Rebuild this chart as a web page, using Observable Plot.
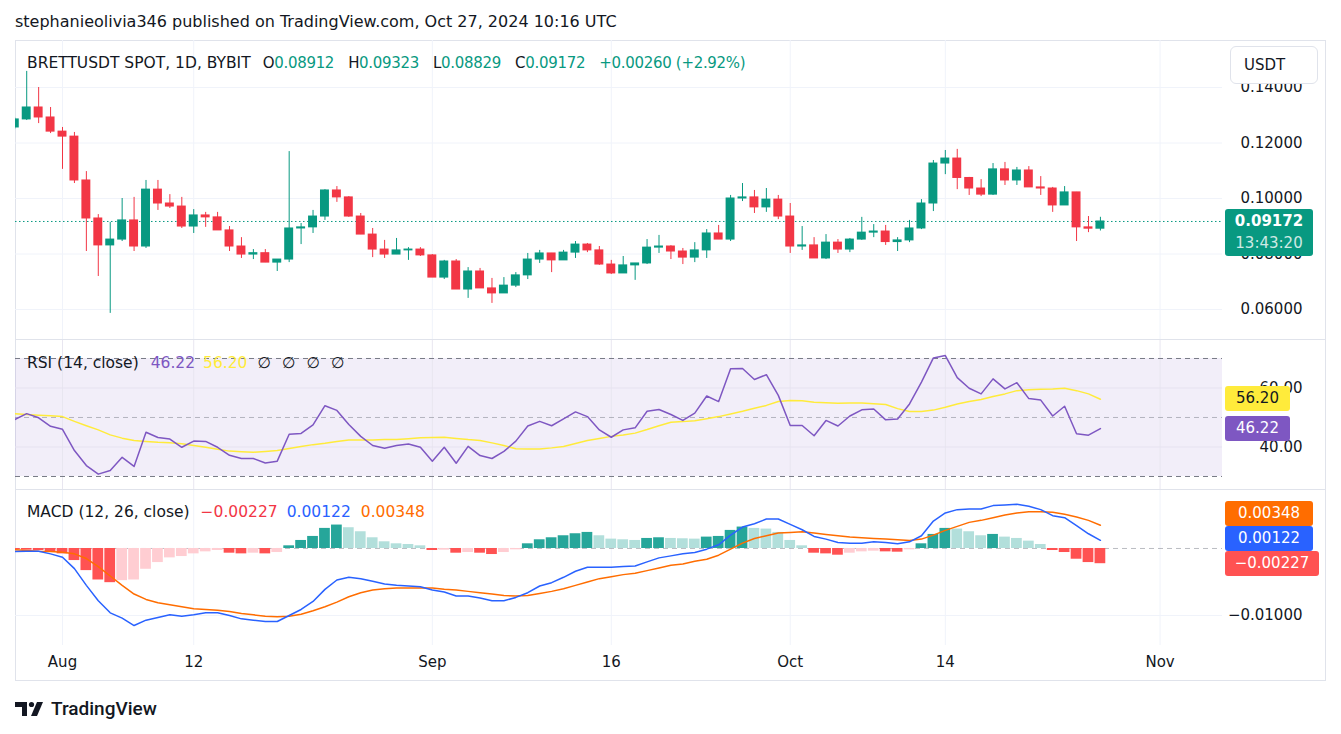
<!DOCTYPE html>
<html><head><meta charset="utf-8">
<script src="https://cdn.jsdelivr.net/npm/d3@7"></script>
<script src="https://cdn.jsdelivr.net/npm/@observablehq/plot@0.6"></script>
<style>
body{margin:0;background:#fff;font-family:"DejaVu Sans",sans-serif;color:#131722;}
#root{position:relative;width:1341px;height:734px;overflow:hidden;background:#fff;}
.abs{position:absolute;}
.legend{position:absolute;left:27px;font-size:15.5px;line-height:20px;white-space:nowrap;}
.legend span{margin-right:8px;}
.legend .v{font-size:15px;letter-spacing:-0.3px;margin-right:14px;}
.box{position:absolute;left:1225px;height:25px;line-height:25px;font-size:15px;text-align:center;border-radius:3px;}
.sep{position:absolute;left:15px;width:1311px;height:1px;background:#e0e3eb;}
</style></head><body><div id="root"></div>
<script>
// ---------------- data ----------------
const days = d3.utcDays(new Date(Date.UTC(2024,6,28)), new Date(Date.UTC(2024,9,28))); // Jul 28 .. Oct 27
const open = [
 0.1256,0.1285,0.1328,0.1292,
 0.1241,0.1223,0.1065,0.0928,0.0831,0.0852,0.0921,0.0827,0.1032,0.0982,0.0971,0.0899,0.0939,0.0932,0.0885,0.0827,0.0798,0.0803,0.0769,0.0780,0.0892,0.0896,0.0935,0.1029,0.1004,0.0935,0.0870,0.0816,0.0798,0.0813,0.0816,
 0.0795,0.0715,0.0773,0.0672,0.0737,0.0676,0.0658,0.0686,0.0723,0.0780,0.0802,0.0777,0.0805,0.0834,0.0813,0.0762,0.0730,0.0759,0.0766,0.0823,0.0827,0.0809,0.0787,0.0813,0.0874,0.0852,0.1000,0.1004,0.0968,0.0996,
 0.0935,0.0827,0.0831,0.0784,0.0841,0.0816,0.0852,0.0877,0.0881,0.0843,0.0849,0.0892,0.0982,0.1126,0.1144,0.1074,0.1036,0.1014,0.1105,0.1065,0.1101,0.1040,0.1036,0.0975,0.1022,0.0896,0.08912];
const high = [
 0.1290,0.1458,0.1400,0.1328,
 0.1256,0.1238,0.1097,0.0942,0.0914,0.1000,0.1004,0.1065,0.1065,0.1014,0.1004,0.0960,0.0950,0.0950,0.0899,0.0859,0.0816,0.0816,0.0780,0.1169,0.0910,0.0957,0.1032,0.1043,0.1007,0.0946,0.0892,0.0849,0.0856,0.0823,0.0823,
 0.0798,0.0777,0.0780,0.0751,0.0748,0.0712,0.0715,0.0733,0.0802,0.0813,0.0802,0.0813,0.0845,0.0838,0.0827,0.0777,0.0791,0.0766,0.0852,0.0867,0.0830,0.0820,0.0841,0.0888,0.0903,0.1011,0.1054,0.1029,0.1036,0.1011,
 0.0982,0.0899,0.0859,0.0870,0.0852,0.0856,0.0932,0.0906,0.0903,0.0859,0.0921,0.0996,0.1137,0.1173,0.1177,0.1076,0.1068,0.1126,0.1130,0.1112,0.1115,0.1079,0.1040,0.1043,0.1022,0.0935,0.09323];
const low = [
 0.1250,0.1281,0.1270,0.1234,
 0.1105,0.1054,0.0809,0.0719,0.0586,0.0845,0.0809,0.0820,0.0957,0.0964,0.0892,0.0874,0.0896,0.0885,0.0809,0.0784,0.0780,0.0769,0.0737,0.0769,0.0834,0.0874,0.0921,0.0986,0.0932,0.0870,0.0787,0.0784,0.0798,0.0777,0.0791,
 0.0715,0.0708,0.0672,0.0640,0.0676,0.0622,0.0658,0.0679,0.0708,0.0766,0.0733,0.0777,0.0784,0.0805,0.0759,0.0726,0.0730,0.0705,0.0762,0.0802,0.0780,0.0762,0.0769,0.0784,0.0852,0.0845,0.0989,0.0946,0.0950,0.0924,
 0.0802,0.0813,0.0784,0.0780,0.0802,0.0805,0.0849,0.0859,0.0831,0.0809,0.0841,0.0888,0.0953,0.1086,0.1032,0.1011,0.1007,0.1011,0.1047,0.1047,0.1040,0.1011,0.0950,0.0975,0.0845,0.0877,0.08829];
const close = [
 0.1285,0.1328,0.1292,0.1241,
 0.1223,0.1065,0.0928,0.0831,0.0852,0.0921,0.0827,0.1032,0.0982,0.0971,0.0899,0.0939,0.0932,0.0885,0.0827,0.0798,0.0803,0.0769,0.0780,0.0892,0.0896,0.0935,0.1029,0.1004,0.0935,0.0870,0.0816,0.0798,0.0813,0.0816,0.0795,
 0.0715,0.0773,0.0672,0.0737,0.0676,0.0658,0.0686,0.0723,0.0780,0.0802,0.0777,0.0805,0.0834,0.0813,0.0762,0.0730,0.0759,0.0766,0.0823,0.0827,0.0809,0.0787,0.0813,0.0874,0.0852,0.1000,0.1004,0.0968,0.0996,0.0935,
 0.0827,0.0831,0.0784,0.0841,0.0816,0.0852,0.0877,0.0881,0.0843,0.0849,0.0892,0.0982,0.1126,0.1144,0.1074,0.1036,0.1014,0.1105,0.1065,0.1101,0.1040,0.1036,0.0975,0.1022,0.0896,0.08912,0.09172];
const rsi = [
 49.3,51.3,49.9,47.0,
 46.0,38.8,33.7,30.8,32.0,36.5,33.4,45.0,43.2,42.7,39.9,42.0,41.9,39.9,37.2,36.1,36.1,34.6,35.2,44.3,44.6,47.5,54.0,52.4,47.6,43.6,40.5,39.6,40.5,41.0,39.9,
 35.2,39.9,34.5,40.2,37.1,36.1,38.5,42.0,47.1,48.7,47.2,49.5,51.9,50.3,45.8,43.3,45.8,46.5,52.1,52.7,51.0,49.0,51.5,57.3,55.4,66.5,66.6,62.9,64.5,57.5,
 47.3,47.3,43.8,49.0,47.1,50.5,52.6,52.9,49.2,49.5,54.6,62.0,70.2,71.0,63.5,59.9,58.0,63.1,59.7,61.8,56.4,55.9,50.5,53.8,44.5,44.0,46.22];
const rsiMA = [
 51.3,51.0,50.8,50.6,
 50.3,48.7,47.2,45.8,44.1,43.0,42.2,41.9,41.6,41.4,41.1,40.5,39.9,39.2,38.6,38.4,38.2,38.5,38.8,39.5,40.2,40.8,41.3,41.9,42.4,42.4,42.4,42.5,42.5,42.8,43.1,
 43.2,43.3,42.9,42.5,42.2,41.4,40.5,39.4,39.3,39.3,39.7,40.2,41.2,42.2,42.9,43.6,44.1,44.7,45.9,47.2,48.4,48.6,48.9,49.6,50.3,51.2,52.1,53.1,54.1,55.4,
 55.8,55.7,55.2,55.0,54.8,54.9,54.9,54.7,54.4,53.0,52.0,52.0,52.5,53.5,54.6,55.4,56.1,57.1,58.0,59.1,59.4,59.6,59.7,59.9,59.1,58.0,56.20];
const macd = [
 -0.00045,-0.0004,-0.0004,-0.0008,
 -0.0013,-0.0030,-0.0055,-0.0078,-0.0096,-0.0104,-0.0115,-0.0107,-0.0103,-0.0099,-0.0101,-0.0099,-0.0096,-0.0096,-0.0100,-0.0105,-0.0107,-0.0109,-0.0109,-0.0100,-0.0091,-0.0079,-0.0061,-0.0047,-0.0043,-0.0045,-0.0049,-0.0053,-0.0055,-0.0056,-0.0057,
 -0.0062,-0.0065,-0.0071,-0.0071,-0.0074,-0.0078,-0.0078,-0.0073,-0.0066,-0.0056,-0.0051,-0.0043,-0.0034,-0.0028,-0.0028,-0.0028,-0.0027,-0.0026,-0.0020,-0.0014,-0.0011,-0.0008,-0.0006,-0.0001,0.00055,0.0020,0.0032,0.0037,0.0044,0.0044,
 0.0036,0.0028,0.0018,0.0014,0.0009,0.0008,0.0008,0.0010,0.0009,0.0007,0.0010,0.0019,0.0041,0.0053,0.0058,0.0059,0.0059,0.0064,0.0065,0.0066,0.0063,0.0058,0.0049,0.0046,0.0034,0.0022,0.00122];
const signal = [
 -0.0002,-0.0003,-0.0004,-0.00045,
 -0.00055,-0.0008,-0.0015,-0.0027,-0.0041,-0.0055,-0.0068,-0.0076,-0.0081,-0.0084,-0.0087,-0.0090,-0.0091,-0.0092,-0.0094,-0.0097,-0.0099,-0.0101,-0.0102,-0.0101,-0.0098,-0.0093,-0.0087,-0.0080,-0.0072,-0.0066,-0.0062,-0.0060,-0.0059,-0.0059,-0.0059,
 -0.0059,-0.0061,-0.0062,-0.0064,-0.0066,-0.0068,-0.0070,-0.0071,-0.0070,-0.0067,-0.0064,-0.0060,-0.0055,-0.0050,-0.0045,-0.0042,-0.0039,-0.0037,-0.0033,-0.0029,-0.0025,-0.0023,-0.0019,-0.0016,-0.0010,-0.0001,0.0008,0.0015,0.0019,0.0023,
 0.0024,0.0025,0.0023,0.0021,0.0019,0.0017,0.0016,0.0015,0.0014,0.0013,0.0012,0.0014,0.0020,0.0027,0.0033,0.0039,0.0042,0.0046,0.0050,0.0053,0.0055,0.0055,0.0054,0.0051,0.0047,0.0042,0.00348];
const hist = [
 -0.0002,-0.00025,-0.0003,-0.0005,
 -0.0008,-0.0018,-0.0033,-0.0047,-0.0051,-0.0048,-0.0047,-0.0031,-0.0021,-0.0014,-0.0012,-0.0008,-0.0005,-0.0003,-0.0007,-0.0008,-0.0007,-0.0008,-0.0006,0.0004,0.0012,0.0018,0.0030,0.0035,0.0031,0.0025,0.0016,0.0010,0.0007,0.0006,0.0004,
 -0.0003,-0.00025,-0.0007,-0.0006,-0.0007,-0.0009,-0.0006,-0.0002,0.0007,0.0013,0.0016,0.0019,0.0022,0.0024,0.0019,0.0014,0.0013,0.0012,0.0015,0.0016,0.0015,0.00145,0.0014,0.0017,0.0018,0.0027,0.0032,0.0030,0.0029,0.0024,
 0.0012,0.0004,-0.0007,-0.0008,-0.0010,-0.0007,-0.0005,-0.0004,-0.0005,-0.00055,-0.0002,0.0007,0.0021,0.0030,0.0029,0.0025,0.0019,0.0021,0.0017,0.0015,0.0011,0.0006,-0.0003,-0.0006,-0.0016,-0.0021,-0.00227];
const tickDates = [new Date(Date.UTC(2024,7,1)),new Date(Date.UTC(2024,7,12)),new Date(Date.UTC(2024,8,1)),new Date(Date.UTC(2024,8,16)),new Date(Date.UTC(2024,9,1)),new Date(Date.UTC(2024,9,14)),new Date(Date.UTC(2024,10,1))];
const tickLabels = ["Aug","12","Sep","16","Oct","14","Nov"];
const priceTicks = [0.06,0.08,0.10,0.12,0.14];
const rsiTicks = [40,60];
const macdTicks = [-0.01];

// ---------------- styles ----------------
const UP="#089981", DOWN="#F23645", GRID="#f0f3fa", TXT="#131722";
const DAY = 864e5;
const aug1 = Date.UTC(2024,7,1);
const xDomain = [new Date(aug1 - 3.94*DAY), new Date(aug1 + 97.234*DAY)];
const W = 1311, MR = 104;
const FONT = "'DejaVu Sans', sans-serif";
const FS = 15;

const rows = days.map((d,i)=>({date:d,o:open[i],h:high[i],l:low[i],c:close[i],
  lo:Math.min(open[i],close[i]),hi:Math.max(open[i],close[i]),
  col: close[i]>=open[i]?UP:DOWN,
  bx1:new Date(+d-0.375*DAY), bx2:new Date(+d+0.375*DAY),
  hx1:new Date(+d-0.45*DAY), hx2:new Date(+d+0.45*DAY),
  rsi:rsi[i], rsiMA:rsiMA[i], macd:macd[i], signal:signal[i], hist:hist[i],
  hcol: (()=>{const h=hist[i], p=i>0?hist[i-1]:h; return h>=0 ? (i>0&&h>=p?"#26A69A":"#B2DFDB") : (i===0||h<p?"#FF5252":"#FFCDD2");})()
}));
const last = rows[rows.length-1];

const root = document.getElementById("root");
function add(html){ root.insertAdjacentHTML("beforeend", html); }
function place(el, left, top){ el.style.position="absolute"; el.style.left=left+"px"; el.style.top=top+"px"; root.appendChild(el); }

// header
add(`<div class="abs" style="left:15px;top:12px;font-size:16px;line-height:20px;color:${TXT}">stephanieolivia346 published on TradingView.com, Oct 27, 2024 10:16 UTC</div>`);
// frame
add(`<div class="abs" style="left:15px;top:40px;width:1311px;height:641px;border:1px solid #e0e3eb;box-sizing:border-box"></div>`);

const base = {width:W, marginLeft:0, marginRight:MR, marginTop:0, style:{fontFamily:FONT, background:"transparent", overflow:"visible"},
  color:{type:"identity"}};

// main pane
const mainPlot = Plot.plot({...base, height:299, marginBottom:0,
  x:{type:"utc", domain:xDomain, axis:null},
  y:{domain:[0.04919,0.15694], axis:null},
  marks:[
    Plot.ruleY(priceTicks,{stroke:GRID}),
    Plot.ruleX(tickDates,{stroke:GRID}),
    Plot.ruleY([last.c],{stroke:UP, strokeDasharray:"1.5,2.5"}),
    Plot.ruleX(rows,{x:"date", y1:"l", y2:"h", stroke:"col", clip:true}),
    Plot.rect(rows,{x1:"bx1", x2:"bx2", y1:"lo", y2:"hi", fill:"col", insetTop:-0.5, insetBottom:-0.5, clip:true}),
    Plot.text(priceTicks,{y:d=>d, text:d=>d.toFixed(5), frameAnchor:"right", dx:80, textAnchor:"end", fontSize:FS, fill:TXT})
  ]});
place(mainPlot, 15, 40);

// RSI pane
const rsiPlot = Plot.plot({...base, height:150, marginBottom:0,
  x:{type:"utc", domain:xDomain, axis:null},
  y:{domain:[25.59,76.44], axis:null},
  marks:[
    Plot.rect([0],{x1:()=>xDomain[0], x2:()=>xDomain[1], y1:()=>30, y2:()=>70, fill:"#7e57c2", fillOpacity:0.1}),
    Plot.ruleX(tickDates,{stroke:"#e8e6f0"}),
    Plot.ruleY(rsiTicks,{stroke:"#e6e2f0"}),
    Plot.ruleY([70,30],{stroke:"#787b86", strokeDasharray:"5,4"}),
    Plot.ruleY([50],{stroke:"#787b86", strokeOpacity:0.5, strokeDasharray:"5,4"}),
    Plot.line(rows,{x:"date", y:"rsiMA", stroke:"#FFEB3B", strokeWidth:1.5, clip:true}),
    Plot.line(rows,{x:"date", y:"rsi", stroke:"#7E57C2", strokeWidth:1.5, clip:true}),
    Plot.text(rsiTicks,{y:d=>d, text:d=>d.toFixed(2), frameAnchor:"right", dx:80, textAnchor:"end", fontSize:FS, fill:TXT})
  ]});
place(rsiPlot, 15, 339);

// MACD pane
const macdPlot = Plot.plot({...base, height:192, marginBottom:36,
  x:{type:"utc", domain:xDomain, axis:null},
  y:{domain:[-0.014478,0.008806], axis:null},
  marks:[
    Plot.ruleX(tickDates,{stroke:GRID}),
    Plot.ruleY(macdTicks,{stroke:GRID}),
    Plot.ruleY([0],{stroke:"#787b86", strokeOpacity:0.5, strokeDasharray:"5,4"}),
    Plot.rect(rows,{x1:"hx1", x2:"hx2", y1:()=>0, y2:"hist", fill:"hcol", clip:true}),
    Plot.line(rows,{x:"date", y:"signal", stroke:"#FF6D00", strokeWidth:1.5, clip:true}),
    Plot.line(rows,{x:"date", y:"macd", stroke:"#2962FF", strokeWidth:1.5, clip:true}),
    Plot.text(macdTicks,{y:d=>d, text:d=>"\u22120.01000", frameAnchor:"right", dx:80, textAnchor:"end", fontSize:FS, fill:TXT}),
    Plot.text(tickDates,{x:d=>d, text:(d,i)=>tickLabels[i], frameAnchor:"bottom", dy:17, lineAnchor:"middle", fontSize:FS, fill:TXT})
  ]});
place(macdPlot, 15, 489);

// pane separators
add(`<div class="sep" style="top:339px"></div><div class="sep" style="top:489px"></div>`);

// legends
const g = s=>`<span style="color:${UP};margin:0">${s}</span>`;
add(`<div class="legend" style="top:53px"><span style="margin-right:12px">BRETTUSDT SPOT, 1D, BYBIT</span><span class="v">O${g(last.o.toFixed(5))}</span><span class="v">H${g(last.h.toFixed(5))}</span><span class="v">L${g(last.l.toFixed(5))}</span><span class="v">C${g(last.c.toFixed(5))}</span><span class="v" style="color:${UP}">+0.00260 (+2.92%)</span></div>`);
add(`<div class="legend" style="top:353px"><span style="margin-right:12px">RSI (14, close)</span><span style="color:#7E57C2">${last.rsi.toFixed(2)}</span><span style="color:#FFEB3B;margin-right:10px">${last.rsiMA.toFixed(2)}</span><span style="margin-right:11px">∅</span><span style="margin-right:11px">∅</span><span style="margin-right:11px">∅</span><span>∅</span></div>`);
add(`<div class="legend" style="top:502px"><span style="margin-right:11px">MACD (12, 26, close)</span><span style="color:#F23645;margin-right:9px">\u2212${Math.abs(last.hist).toFixed(5)}</span><span style="color:#2962FF;margin-right:10px">${last.macd.toFixed(5)}</span><span style="color:#FF6D00">${last.signal.toFixed(5)}</span></div>`);

// USDT box
add(`<div class="abs" style="left:1230px;top:46px;width:88px;height:38px;border:1px solid #e0e3eb;border-radius:6px;background:#fff;box-sizing:border-box;font-size:15px;line-height:36px;padding-left:13px">USDT</div>`);

// last price label
const yMain = mainPlot.scale("y");
const pTop = 40 + yMain.apply(last.c) - 12;
add(`<div class="abs" style="left:1225px;top:${pTop}px;width:88px;height:47px;background:${UP};border-radius:3px;color:#fff;font-size:15px;line-height:22px;text-align:center;padding-top:1px;box-sizing:border-box"><div style="font-weight:bold">${last.c.toFixed(5)}</div><div style="opacity:0.8">13:43:20</div></div>`);

// RSI labels
const yR = rsiPlot.scale("y");
add(`<div class="box" style="top:${339+yR.apply(last.rsiMA)-12.5}px;width:65px;background:#FFEB3B;color:${TXT}">${last.rsiMA.toFixed(2)}</div>`);
add(`<div class="box" style="top:${339+yR.apply(last.rsi)-12.5}px;width:65px;background:#7E57C2;color:#fff">${last.rsi.toFixed(2)}</div>`);

// MACD labels (stacked to avoid overlap)
const yM = macdPlot.scale("y");
let labs = [
  {v:last.signal, t:last.signal.toFixed(5), bg:"#FF6D00", w:88},
  {v:last.macd, t:last.macd.toFixed(5), bg:"#2962FF", w:88},
  {v:last.hist, t:"\u2212"+Math.abs(last.hist).toFixed(5), bg:"#FF5252", w:94}
].map(d=>({...d, y:489+yM.apply(d.v)}));
labs.sort((a,b)=>b.y-a.y);
for(let i=1;i<labs.length;i++){ if(labs[i-1].y - labs[i].y < 25) labs[i].y = labs[i-1].y - 25; }
labs.forEach(d=>add(`<div class="box" style="top:${d.y-12.5}px;width:${d.w}px;background:${d.bg};color:#fff">${d.t}</div>`));

// footer logo
add(`<div class="abs" style="left:15px;top:697px;display:flex;align-items:center;gap:6px">
<svg width="30" height="18" viewBox="0 0 30 18"><path d="M0 2h12v14H7V7H0z" fill="${TXT}"/><circle cx="16.5" cy="4.5" r="2.6" fill="${TXT}"/><path d="M22 2h6l-6 14h-6z" fill="${TXT}"/></svg>
<span style="font-family:Roboto,sans-serif;font-size:19px;font-weight:500;color:${TXT}">TradingView</span></div>`);
</script></body></html>
